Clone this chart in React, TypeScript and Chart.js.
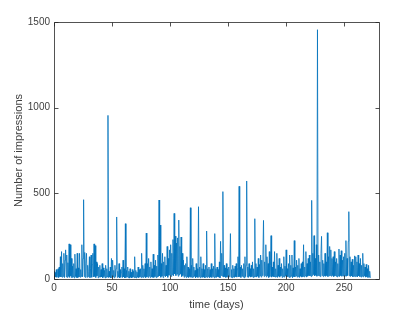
import React, { useEffect, useRef } from "react";
import { Chart, registerables } from "chart.js";

Chart.register(...registerables);

// Sampling interval of the series (days)
const dayStep = 0.5;

// Number of impressions, every half day from day 0
const impressions: number[] = [
  45, 8, 38, 12, 55, 10, 30, 60, 9, 70, 14, 130, 12, 160, 10, 90, 15, 150, 8, 110,
  170, 12, 140, 9, 95, 15, 205, 10, 200, 18, 120, 8, 75, 12, 90, 6, 145, 14, 60, 9,
  150, 8, 65, 12, 150, 10, 55, 15, 200, 12, 120, 463, 14, 155, 9, 90, 150, 10, 80, 14,
  45, 130, 8, 60, 140, 10, 85, 150, 12, 205, 15, 195, 9, 100, 18, 90, 7, 70, 12, 80,
  10, 55, 12, 90, 7, 65, 14, 50, 6, 80, 10, 60, 12, 955, 8, 45, 11, 70, 6, 120,
  10, 110, 12, 50, 7, 80, 14, 60, 362, 9, 45, 11, 90, 6, 55, 10, 40, 70, 8, 110,
  12, 60, 6, 323, 9, 50, 12, 70, 8, 45, 5, 60, 10, 40, 6, 55, 11, 45, 8, 130,
  9, 50, 6, 40, 11, 70, 8, 55, 12, 60, 8, 150, 11, 80, 9, 60, 14, 90, 8, 268,
  12, 90, 9, 120, 16, 70, 8, 100, 12, 60, 10, 145, 9, 80, 14, 110, 8, 75, 12, 140,
  15, 461, 18, 315, 10, 90, 16, 150, 8, 100, 20, 130, 12, 80, 18, 190, 10, 120, 22, 170,
  20, 200, 15, 150, 25, 230, 18, 383, 30, 250, 20, 210, 28, 240, 16, 344, 24, 190, 30, 245,
  14, 150, 20, 110, 10, 80, 16, 90, 8, 130, 12, 70, 9, 60, 14, 416, 10, 80, 9, 120,
  11, 70, 15, 50, 7, 90, 12, 60, 9, 422, 14, 70, 7, 130, 12, 60, 9, 90, 11, 55,
  7, 80, 12, 280, 9, 60, 14, 70, 7, 55, 11, 90, 9, 60, 14, 75, 7, 265, 11, 60,
  9, 70, 14, 55, 11, 100, 7, 220, 20, 150, 16, 510, 11, 80, 14, 65, 9, 90, 12, 60,
  7, 70, 14, 60, 265, 10, 55, 7, 80, 12, 60, 9, 75, 14, 90, 11, 60, 130, 12, 541,
  14, 70, 9, 80, 16, 60, 11, 90, 7, 130, 14, 80, 572, 12, 70, 9, 90, 16, 60, 11,
  80, 14, 100, 9, 60, 12, 352, 14, 90, 11, 70, 16, 120, 9, 85, 18, 140, 11, 110, 20,
  145, 342, 14, 100, 20, 200, 12, 130, 18, 90, 9, 160, 14, 80, 253, 11, 70, 16, 100, 12,
  160, 11, 60, 14, 150, 9, 80, 16, 120, 11, 70, 18, 90, 9, 60, 14, 130, 11, 75, 18,
  170, 12, 60, 14, 90, 9, 140, 11, 80, 16, 140, 7, 65, 14, 224, 12, 70, 18, 110, 11,
  80, 14, 120, 9, 60, 16, 90, 11, 100, 14, 200, 12, 70, 18, 160, 11, 90, 16, 120, 20,
  140, 18, 100, 14, 459, 20, 150, 25, 253, 18, 120, 22, 200, 16, 1455, 20, 140, 18, 100, 14,
  150, 249, 20, 110, 14, 90, 18, 150, 16, 100, 20, 270, 14, 130, 18, 190, 20, 170, 16, 120,
  20, 130, 14, 160, 18, 100, 16, 120, 12, 90, 18, 175, 14, 140, 20, 165, 16, 110, 18, 130,
  14, 150, 18, 224, 16, 120, 20, 220, 393, 18, 130, 14, 100, 18, 115, 12, 80, 16, 135, 14,
  130, 16, 100, 12, 140, 18, 90, 14, 120, 11, 80, 16, 150, 12, 90, 18, 70, 11, 85, 14,
  60, 9, 80, 11, 45, 6,
];

const xTicks = [0, 50, 100, 150, 200, 250];
const yTicks = [0, 500, 1000, 1500];
const xLimits = [0, 280];
const yLimits = [0, 1500];
const xLabel = "time (days)";
const yLabel = "Number of impressions";

const axisColor = "#262626";
const tickColor = "#404040";

const boxPlugin = {
  id: "matlabBox",
  afterDatasetsDraw(chart: any) {
    const { ctx, chartArea, scales } = chart;
    const l = Math.round(chartArea.left) + 0.5;
    const r = Math.round(chartArea.right) + 0.5;
    const t = Math.round(chartArea.top) + 0.5;
    const b = Math.round(chartArea.bottom) + 0.5;
    const len = 4;
    ctx.save();
    ctx.strokeStyle = axisColor;
    ctx.lineWidth = 0.8;
    ctx.beginPath();
    ctx.rect(l, t, r - l, b - t);
    for (const v of xTicks) {
      const x = Math.round(scales.x.getPixelForValue(v)) + 0.5;
      ctx.moveTo(x, b);
      ctx.lineTo(x, b - len);
      ctx.moveTo(x, t);
      ctx.lineTo(x, t + len);
    }
    for (const v of yTicks) {
      const y = Math.round(scales.y.getPixelForValue(v)) + 0.5;
      ctx.moveTo(l, y);
      ctx.lineTo(l + len, y);
      ctx.moveTo(r, y);
      ctx.lineTo(r - len, y);
    }
    ctx.stroke();
    ctx.restore();
  },
};

export default function App() {
  const ref = useRef<HTMLCanvasElement>(null);
  useEffect(() => {
    if (!ref.current) return;
    const points = impressions.map((v, i) => ({ x: i * dayStep, y: v }));
    const tickFont = { family: "'Liberation Sans', Arial, Helvetica, sans-serif", size: 10 };
    const titleFont = { family: "'Liberation Sans', Arial, Helvetica, sans-serif", size: 11 };
    const chart = new Chart(ref.current, {
      type: "line",
      data: {
        datasets: [
          {
            data: points,
            borderColor: "#0072BD",
            borderWidth: 0.8,
            pointRadius: 0,
            tension: 0,
            fill: false,
          },
        ],
      },
      options: {
        animation: false,
        responsive: false,
        events: [],
        layout: { padding: { top: 22, right: 40, left: 0, bottom: 0 } },
        plugins: { legend: { display: false }, tooltip: { enabled: false } },
        scales: {
          x: {
            type: "linear",
            min: xLimits[0],
            max: xLimits[1],
            afterBuildTicks: (s: any) => {
              s.ticks = xTicks.map((v) => ({ value: v }));
            },
            afterFit: (s: any) => {
              s.height = 35;
            },
            grid: { display: false, drawTicks: false },
            border: { display: false },
            ticks: {
              color: tickColor,
              font: tickFont,
              padding: 3,
              maxRotation: 0,
              callback: (v: any) => String(v),
            },
            title: {
              display: true,
              text: xLabel,
              color: tickColor,
              font: titleFont,
              padding: { top: 0, bottom: 2 },
            },
          },
          y: {
            type: "linear",
            min: yLimits[0],
            max: yLimits[1],
            afterBuildTicks: (s: any) => {
              s.ticks = yTicks.map((v) => ({ value: v }));
            },
            afterFit: (s: any) => {
              s.width = 54;
            },
            grid: { display: false, drawTicks: false },
            border: { display: false },
            ticks: {
              color: tickColor,
              font: tickFont,
              padding: 4,
              callback: (v: any) => String(v),
            },
            title: {
              display: true,
              text: yLabel,
              color: tickColor,
              font: titleFont,
              padding: { top: 12, bottom: 0 },
            },
          },
        },
      },
      plugins: [boxPlugin],
    });
    return () => chart.destroy();
  }, []);
  return (
    <div style={{ position: "absolute", left: 0, top: 0, width: 419, height: 314, background: "#fff" }}>
      <canvas ref={ref} width={419} height={314} style={{ display: "block" }} />
    </div>
  );
}
